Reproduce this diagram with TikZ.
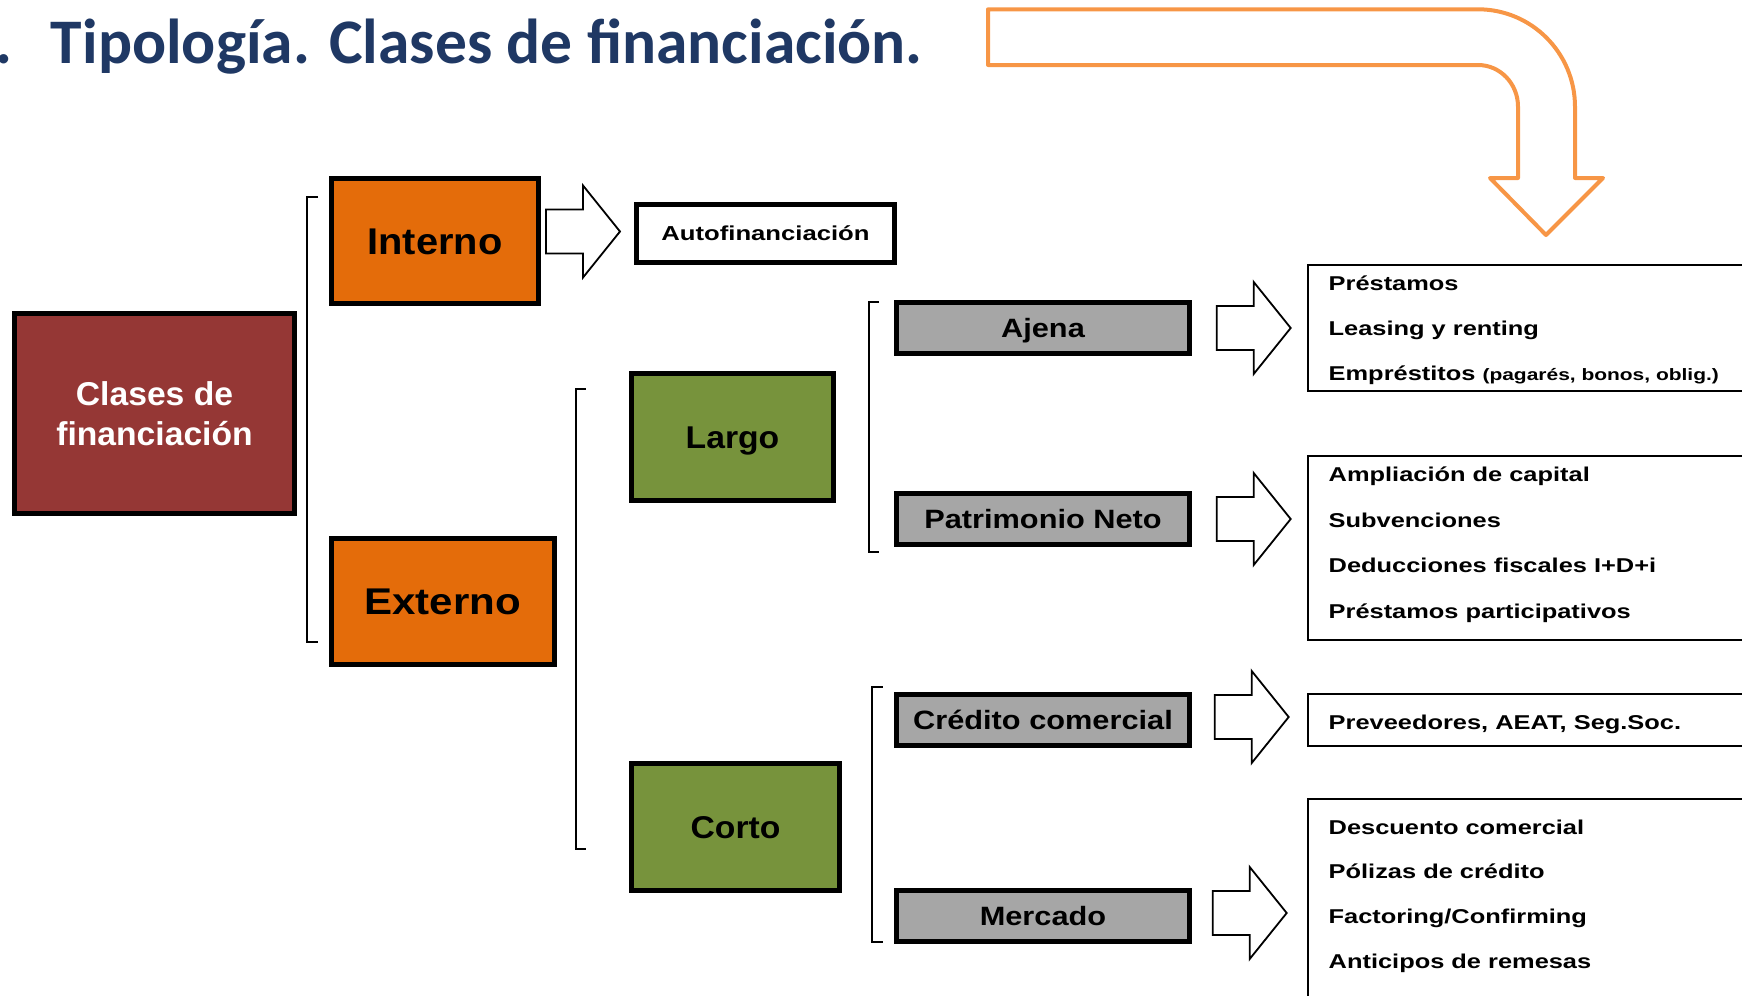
\documentclass[tikz,border=0pt]{standalone}
\usepackage{fontspec}
\setmainfont{Liberation Sans}
\newfontfamily\titlefont{Carlito}
\newfontfamily\clasesfont{Liberation Sans}[FakeStretch=1.02]
\newfontfamily\boxfont{Liberation Sans}[FakeStretch=1.07]
\newfontfamily\extfont{Liberation Sans}[FakeStretch=1.13]
\newfontfamily\grayfont{Liberation Sans}[FakeStretch=1.16]
\newfontfamily\listfont{Liberation Sans}[FakeStretch=1.27]
\usetikzlibrary{calc}
\definecolor{titleblue}{HTML}{1F3864}
\definecolor{claret}{HTML}{953735}
\definecolor{pumpkin}{HTML}{E46C0A}
\definecolor{grass}{HTML}{77933C}
\definecolor{boxgray}{HTML}{A6A6A6}
\definecolor{peach}{HTML}{F79646}
\tikzset{
  mainbox/.style={draw, line width=2.5pt, inner sep=0pt},
  orangebox/.style={mainbox, fill=pumpkin, text height=13.3pt, text depth=0pt,
    font=\boxfont\bfseries\fontsize{18.6}{22}\selectfont},
  greenbox/.style={mainbox, fill=grass, text height=11.3pt, text depth=0pt,
    font=\boxfont\bfseries\fontsize{15.75}{19}\selectfont},
  graybox/.style={mainbox, fill=boxgray, minimum width=146.5pt, minimum height=25.5pt,
    text height=9.5pt, text depth=0pt, font=\grayfont\bfseries\fontsize{13.25}{16}\selectfont},
  listbox/.style={draw, line width=1pt, inner sep=0pt, anchor=north west, minimum width=250pt},
  item/.style={anchor=base west, inner sep=0pt, font=\listfont\bfseries\fontsize{10}{12}\selectfont},
  bracket/.style={line width=0.9pt},
  fatarrow/.pic={
    \draw[line width=0.9pt, fill=white] (0,0) -- (-37,-46) -- (-37,-22) -- (-74,-22)
      -- (-74,22) -- (-37,22) -- (-37,46) -- cycle;
  }
}
\newcommand{\paren}[1]{{\fontsize{8.25}{10}\selectfont #1}}

\begin{document}
\begin{tikzpicture}[x=0.5pt,y=-0.5pt]
\useasboundingbox (0,0) rectangle (1742,996);
\clip (0,0) rectangle (1742,996);

\node[anchor=base east, inner sep=0pt, text=titleblue, font=\titlefont\bfseries\fontsize{31.75}{36}\selectfont] (title) at (923,63) {2.\hspace{0.6em}Tipología. Clases de financiación.};
\draw[peach, line width=2pt, line join=round] (988,9.3) -- (1478,9.3) .. controls (1531.6,9.3) and (1575,53) .. (1575,106.7)
  -- (1575,178) -- (1603,178) -- (1546,235) -- (1490,178) -- (1518,178) -- (1518,106.7)
  .. controls (1518,83.5) and (1500,65) .. (1478,65) -- (988,65) -- cycle;

\node[mainbox, fill=claret, text=white, minimum width=140pt, minimum height=100pt, align=center,
  font=\clasesfont\bfseries\fontsize{16.5}{20}\selectfont] (clases) at (154.5,413.5) {Clases de\\financiación};
\node[orangebox, minimum width=103.5pt, minimum height=62.5pt] (interno) at (435,241) {Interno};
\node[orangebox, minimum width=111.25pt, minimum height=63pt, font=\extfont\bfseries\fontsize{18.6}{22}\selectfont] (externo) at (442.8,601.5) {Externo};
\node[mainbox, line width=2.3pt, fill=white, minimum width=129.2pt, minimum height=29.2pt, text height=7.3pt, text depth=0pt,
  font=\listfont\bfseries\fontsize{10.1}{12}\selectfont] (auto) at (765.5,233.5) {Autofinanciación};
\node[greenbox, minimum width=101pt, minimum height=63.5pt] (largo) at (732.5,436.7) {Largo};
\node[greenbox, minimum width=103.7pt, minimum height=63.35pt] (corto) at (735.5,826.8) {Corto};
\node[graybox] (ajena) at (1043,328) {Ajena};
\node[graybox] (neto) at (1043,519) {Patrimonio Neto};
\node[graybox] (credito) at (1043,720) {Crédito comercial};
\node[graybox] (mercado) at (1043,916) {Mercado};

\draw[bracket] (318,196.7) -| (307,641.7) -- (318,641.7);
\draw[bracket] (585.7,389) -| (575.7,849.3) -- (585.7,849.3);
\draw[bracket] (879,301.7) -| (869,552) -- (879,552);
\draw[bracket] (882.7,686.7) -| (872,941.7) -- (882.7,941.7);

\node[listbox, minimum height=62.85pt] (lst1) at (1306.7,264) {};
\node[listbox, minimum height=91.85pt] (lst2) at (1306.7,455) {};
\node[listbox, minimum height=25.85pt] (lst3) at (1306.7,693) {};
\node[listbox, minimum height=150pt] (lst4) at (1306.7,798.3) {};

\foreach \txt [count=\k from 0] in {Préstamos, Leasing y renting, {Empréstitos \paren{(pagarés, bonos, oblig.)}}}
  \node[item] (ia\k) at ($(lst1.north west)+(21.6,26.7+45*\k)$) {\txt};
\foreach \txt [count=\k from 0] in {Ampliación de capital, Subvenciones, Deducciones fiscales I+D+i, Préstamos participativos}
  \node[item] (ib\k) at ($(lst2.north west)+(21.6,26.7+45.5*\k)$) {\txt};
\node[item] (ic0) at ($(lst3.north west)+(21.6,36.3)$) {Preveedores, AEAT, Seg.Soc.};
\foreach \txt [count=\k from 0] in {Descuento comercial, Pólizas de crédito, Factoring/Confirming, Anticipos de remesas}
  \node[item] (id\k) at ($(lst4.north west)+(21.6,35.7+44.7*\k)$) {\txt};

\pic at ($(auto.west)+(-14,-2)$) {fatarrow};
\pic at ($(lst1.west |- ajena.east)+(-16,0)$) {fatarrow};
\pic at ($(lst2.west |- neto.east)+(-16,0)$) {fatarrow};
\pic at ($(lst3.west |- credito.east)+(-18,-3)$) {fatarrow};
\pic at ($(lst4.west |- mercado.east)+(-20,-3)$) {fatarrow};
\end{tikzpicture}
\end{document}
